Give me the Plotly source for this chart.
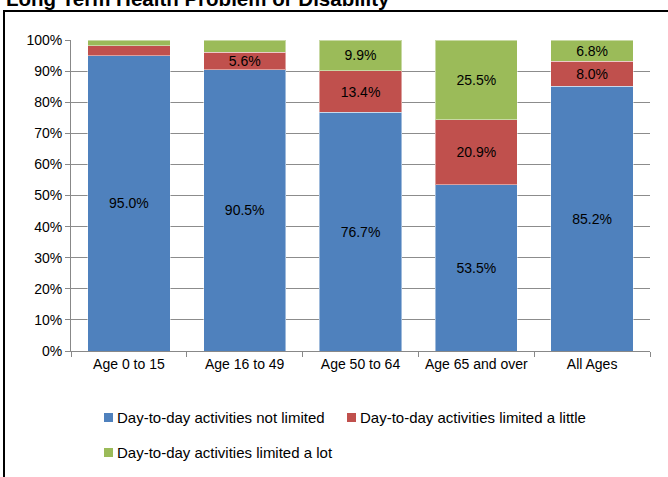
import plotly.graph_objects as go

categories = ["Age 0 to 15", "Age 16 to 49", "Age 50 to 64", "Age 65 and over", "All Ages"]
not_limited = [95.0, 90.5, 76.7, 53.5, 85.2]
limited_little = [3.2, 5.6, 13.4, 20.9, 8.0]
limited_lot = [1.8, 3.9, 9.9, 25.5, 6.8]

label_not = ["95.0%", "90.5%", "76.7%", "53.5%", "85.2%"]
label_little = ["", "5.6%", "13.4%", "20.9%", "8.0%"]
label_lot = ["", "", "9.9%", "25.5%", "6.8%"]

series_names = ["Day-to-day activities not limited",
                "Day-to-day activities limited a little",
                "Day-to-day activities limited a lot"]
colors = ["#4F81BD", "#C0504D", "#9BBB59"]
title_text = "Long Term Health Problem or Disability"

FONT = "Liberation Sans, Arial, sans-serif"

# plot area in pixels
L, R, T, B = 71, 650, 40, 351
W, H = 668, 477
PW, PH = R - L, B - T


def px(x):
    return (x - L) / PW


def py(y):
    return (B - y) / PH


fig = go.Figure()
for vals, labels, name, col in zip(
        [not_limited, limited_little, limited_lot],
        [label_not, label_little, label_lot],
        series_names, colors):
    fig.add_trace(go.Bar(
        x=categories, y=[v / 100 for v in vals], name=name,
        marker=dict(color=col, line=dict(color="rgba(255,255,255,0.45)", width=1)),
        text=labels, textposition="inside", insidetextanchor="middle",
        textfont=dict(color="black", size=14, family=FONT),
        textangle=0, constraintext="none", hoverinfo="skip",
    ))

# custom legend (squares + text), positions in pixels
legend_pos = [(104, 417.5), (347, 417.5), (104, 452.5)]
shapes = [dict(type="rect", xref="paper", yref="paper",
               x0=px(4), x1=px(W + 12), y0=py(H + 12), y1=py(11),
               line=dict(color="black", width=2), layer="below")]
annotations = [dict(text="<b>" + title_text + "</b>", xref="paper", yref="paper",
                    x=px(4), y=py(12), xanchor="left", yanchor="bottom",
                    showarrow=False,
                    font=dict(size=20.5, family=FONT, color="black"))]
for (lx, ly), name, col in zip(legend_pos, series_names, colors):
    shapes.append(dict(type="rect", xref="paper", yref="paper",
                       x0=px(lx), x1=px(lx + 9), y0=py(ly + 4.5), y1=py(ly - 4.5),
                       fillcolor=col, line=dict(width=0)))
    annotations.append(dict(text=name, xref="paper", yref="paper",
                            x=px(lx + 11), y=py(ly), xanchor="left", yanchor="middle",
                            showarrow=False,
                            font=dict(size=15, family=FONT, color="black")))

fig.update_layout(
    width=W, height=H,
    barmode="stack", bargap=0.29,
    margin=dict(l=L, r=W - R, t=T, b=H - B, autoexpand=False),
    paper_bgcolor="white", plot_bgcolor="white",
    font=dict(family=FONT, size=14, color="black"),
    showlegend=False,
    xaxis=dict(showline=True, linecolor="#888888", linewidth=1,
               ticks="outside", ticklen=5, tickcolor="#888888",
               tickson="boundaries", tickfont=dict(size=14, family=FONT),
               showgrid=False, fixedrange=True),
    yaxis=dict(range=[0, 1], tickformat=".0%", dtick=0.1,
               showline=True, linecolor="#888888", linewidth=1,
               ticks="outside", ticklen=5, tickcolor="#888888",
               showgrid=True, gridcolor="#8c8c8c", gridwidth=1,
               tickfont=dict(size=14, family=FONT), zeroline=False,
               fixedrange=True),
    shapes=shapes,
    annotations=annotations,
)

fig.write_html("out.html", config={"displayModeBar": False},
               post_script="document.body.style.margin='0px';document.body.style.overflow='hidden';")
